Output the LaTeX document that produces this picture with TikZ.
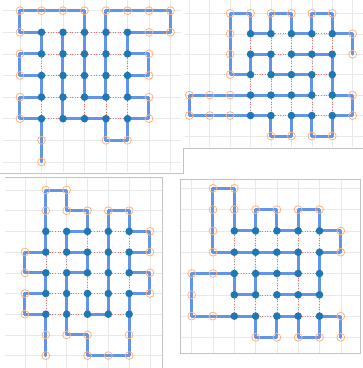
\documentclass[tikz,border=0pt]{standalone}
\definecolor{dotblue}{RGB}{31,119,180}
\definecolor{pathblue}{RGB}{98,148,232}
\definecolor{ringorange}{RGB}{255,178,122}
\definecolor{gridgray}{RGB}{233,233,233}
\definecolor{framegray}{RGB}{195,195,195}
\definecolor{linkred}{RGB}{240,110,110}
\pgfdeclarelayer{gridlayer}
\pgfdeclarelayer{routelayer}
\pgfsetlayers{gridlayer,routelayer,main}
\tikzset{
  dot/.style={circle,fill=dotblue,inner sep=0pt,minimum size=7.6pt},
  ring/.style={circle,draw=ringorange,line width=0.8pt,inner sep=0pt,minimum size=7.8pt},
  route/.style={draw=pathblue,line width=3pt,line join=round,line cap=round},
  link/.style={draw=linkred,line width=0.6pt,dotted},
  gridline/.style={draw=gridgray,line width=0.5pt},
  frame/.style={draw=framegray,line width=0.7pt},
}
\begin{document}
\begin{tikzpicture}[x=1pt,y=-1pt]
\useasboundingbox (0,0) rectangle (363,368);
% ---------- grids and frames ----------
\begin{pgfonlayer}{gridlayer}
\foreach \i in {0,...,7} \draw[gridline] ({20+21.5*\i},0) -- ({20+21.5*\i},172);
\foreach \j in {0,...,7} \draw[gridline] (3,{10.7+21.6*\j}) -- (181,{10.7+21.6*\j});
\foreach \i in {0,...,8} \draw[gridline] ({189.3+20.42*\i},0) -- ({189.3+20.42*\i},147);
\foreach \j in {0,...,6} \draw[gridline] (185,{13.3+20.45*\j}) -- (363,{13.3+20.45*\j});
\foreach \i in {0,...,6} \draw[gridline] ({25+20.83*\i},177) -- ({25+20.83*\i},368);
\foreach \j in {0,...,8} \draw[gridline] (5,{190+20.7*\j}) -- (162,{190+20.7*\j});
\foreach \i in {0,...,7} \draw[gridline] ({191.7+21.3*\i},179) -- ({191.7+21.3*\i},353);
\foreach \j in {0,...,7} \draw[gridline] (180,{188.3+21.3*\j}) -- (360,{188.3+21.3*\j});
\draw[frame] (0,173) -- (183,173) -- (183,148) -- (363,148);
\draw[frame] (5,177) -- (162,177) -- (162,368);
\draw[frame] (180,179) rectangle (360,353);
\end{pgfonlayer}
% ---------- panel A ----------
\foreach \i in {1,...,5} \foreach \j in {1,...,5}
  \node[dot] (A\i\j) at ({20+21.5*\i},{10.7+21.6*\j}) {};
\foreach \i/\j in {0/0,1/0,2/0,3/0,4/0,5/0,6/0,7/0,0/1,6/1,7/1,0/2,6/2,0/3,6/3,0/4,6/4,0/5,6/5,1/6,4/6,5/6,1/7}
  \node[ring] (A\i\j) at ({20+21.5*\i},{10.7+21.6*\j}) {};
% ---------- panel B ----------
\foreach \i in {3,...,7} \foreach \j in {1,...,5}
  \node[dot] (B\i\j) at ({189.3+20.42*\i},{13.3+20.45*\j}) {};
\foreach \i/\j in {2/0,3/0,4/0,5/0,6/0,7/0,2/1,8/1,2/2,8/2,2/3,0/4,1/4,2/4,8/4,0/5,1/5,2/5,8/5,4/6,5/6,6/6,7/6}
  \node[ring] (B\i\j) at ({189.3+20.42*\i},{13.3+20.45*\j}) {};
% ---------- panel C ----------
\foreach \i in {1,...,5} \foreach \j in {2,...,6}
  \node[dot] (C\i\j) at ({25+20.83*\i},{190+20.7*\j}) {};
\foreach \i/\j in {1/0,2/0,1/1,2/1,3/1,4/1,5/1,6/2,0/3,6/3,0/4,6/4,0/5,6/5,0/6,1/7,2/7,3/7,5/7,1/8,3/8,4/8,5/8}
  \node[ring] (C\i\j) at ({25+20.83*\i},{190+20.7*\j}) {};
% ---------- panel D ----------
\foreach \i in {2,...,6} \foreach \j in {2,...,6}
  \node[dot] (D\i\j) at ({191.7+21.3*\i},{188.3+21.3*\j}) {};
\foreach \i/\j in {1/0,2/0,1/1,2/1,3/1,4/1,5/1,6/1,1/2,7/2,1/3,7/3,0/4,1/4,0/5,0/6,1/6,7/6,3/7,4/7,5/7,6/7,7/7}
  \node[ring] (D\i\j) at ({191.7+21.3*\i},{188.3+21.3*\j}) {};
% ---------- red links between neighbouring dots ----------
\begin{pgfonlayer}{routelayer}
\foreach \P/\a/\b/\c/\d in {A/1/5/1/5,B/3/7/1/5,C/1/5/2/6,D/2/6/2/6}{
  \foreach \i in {\a,...,\b} \foreach \j in {\c,...,\d}{
    \pgfmathtruncatemacro\ni{\i+1}
    \pgfmathtruncatemacro\nj{\j+1}
    \ifnum\i<\b \draw[link] (\P\i\j) -- (\P\ni\j);\fi
    \ifnum\j<\d \draw[link] (\P\i\j) -- (\P\i\nj);\fi
  }
}
% ---------- blue routes ----------
\draw[route] (A17.center) -- (A16.center) -- (A15.center) -- (A05.center) -- (A04.center) -- (A14.center) -- (A13.center) -- (A03.center) -- (A02.center) -- (A12.center) -- (A11.center) -- (A01.center) -- (A00.center) -- (A10.center) -- (A20.center) -- (A30.center) -- (A31.center) -- (A32.center) -- (A33.center) -- (A34.center) -- (A44.center) -- (A43.center) -- (A42.center) -- (A41.center) -- (A40.center) -- (A50.center) -- (A60.center) -- (A70.center) -- (A71.center) -- (A61.center) -- (A51.center) -- (A52.center) -- (A62.center) -- (A63.center) -- (A53.center) -- (A54.center) -- (A64.center) -- (A65.center) -- (A55.center) -- (A56.center) -- (A46.center) -- (A45.center) -- (A35.center) -- (A25.center) -- (A24.center) -- (A23.center) -- (A22.center) -- (A21.center);
\draw[route] (B82.center) -- (B81.center) -- (B71.center) -- (B70.center) -- (B60.center) -- (B61.center) -- (B51.center) -- (B50.center) -- (B40.center) -- (B41.center) -- (B31.center) -- (B30.center) -- (B20.center) -- (B21.center) -- (B22.center) -- (B23.center) -- (B33.center) -- (B32.center) -- (B42.center) -- (B43.center) -- (B53.center) -- (B63.center) -- (B64.center) -- (B54.center) -- (B44.center) -- (B34.center) -- (B24.center) -- (B14.center) -- (B04.center) -- (B05.center) -- (B15.center) -- (B25.center) -- (B35.center) -- (B45.center) -- (B46.center) -- (B56.center) -- (B55.center) -- (B65.center) -- (B66.center) -- (B76.center) -- (B75.center) -- (B85.center) -- (B84.center) -- (B74.center) -- (B73.center) -- (B72.center) -- (B62.center) -- (B52.center);
\draw[route] (C18.center) -- (C17.center) -- (C16.center) -- (C06.center) -- (C05.center) -- (C15.center) -- (C14.center) -- (C04.center) -- (C03.center) -- (C13.center) -- (C12.center) -- (C11.center) -- (C10.center) -- (C20.center) -- (C21.center) -- (C31.center) -- (C32.center) -- (C22.center) -- (C23.center) -- (C33.center) -- (C34.center) -- (C24.center) -- (C25.center) -- (C26.center) -- (C27.center) -- (C37.center) -- (C38.center) -- (C48.center) -- (C58.center) -- (C57.center) -- (C56.center) -- (C55.center) -- (C65.center) -- (C64.center) -- (C54.center) -- (C53.center) -- (C63.center) -- (C62.center) -- (C52.center) -- (C51.center) -- (C41.center) -- (C42.center) -- (C43.center) -- (C44.center) -- (C45.center) -- (C46.center) -- (C36.center) -- (C35.center);
\draw[route] (D77.center) -- (D76.center) -- (D66.center) -- (D67.center) -- (D57.center) -- (D56.center) -- (D46.center) -- (D47.center) -- (D37.center) -- (D36.center) -- (D26.center) -- (D16.center) -- (D06.center) -- (D05.center) -- (D04.center) -- (D14.center) -- (D24.center) -- (D25.center) -- (D35.center) -- (D34.center) -- (D44.center) -- (D54.center) -- (D53.center) -- (D43.center) -- (D33.center) -- (D23.center) -- (D13.center) -- (D12.center) -- (D11.center) -- (D10.center) -- (D20.center) -- (D21.center) -- (D22.center) -- (D32.center) -- (D31.center) -- (D41.center) -- (D42.center) -- (D52.center) -- (D51.center) -- (D61.center) -- (D62.center) -- (D72.center) -- (D73.center) -- (D63.center) -- (D64.center) -- (D65.center) -- (D55.center) -- (D45.center);
\end{pgfonlayer}
\end{tikzpicture}
\end{document}
